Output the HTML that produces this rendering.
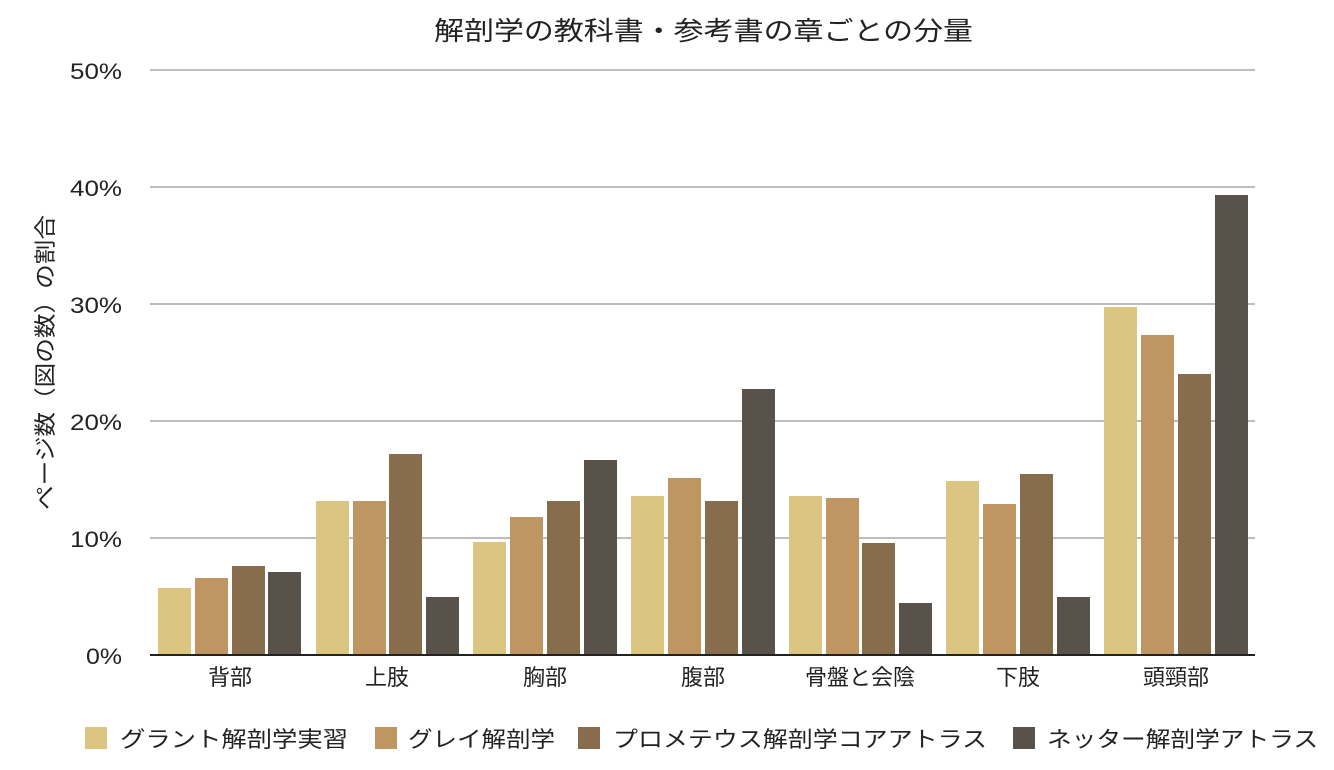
<!DOCTYPE html>
<html><head><meta charset="utf-8"><style>
html,body{margin:0;padding:0;background:#fff;}
svg{display:block;font-family:"Liberation Sans","Noto Sans CJK JP",sans-serif;}
</style></head><body>
<svg width="1334" height="770" viewBox="0 0 1334 770" xmlns="http://www.w3.org/2000/svg">
<text x="434" y="40" font-size="26" textLength="539" lengthAdjust="spacingAndGlyphs" fill="#222">解剖学の教科書・参考書の章ごとの分量</text>
<g stroke="#bdbdbd" stroke-width="2">
<line x1="150" y1="70" x2="1255" y2="70"/>
<line x1="150" y1="187" x2="1255" y2="187"/>
<line x1="150" y1="304" x2="1255" y2="304"/>
<line x1="150" y1="421" x2="1255" y2="421"/>
<line x1="150" y1="538" x2="1255" y2="538"/>
</g>
<g font-size="22" fill="#222">
<text x="70" y="79" textLength="52" lengthAdjust="spacingAndGlyphs">50%</text>
<text x="70" y="196" textLength="52" lengthAdjust="spacingAndGlyphs">40%</text>
<text x="70" y="313" textLength="52" lengthAdjust="spacingAndGlyphs">30%</text>
<text x="70" y="430" textLength="52" lengthAdjust="spacingAndGlyphs">20%</text>
<text x="70" y="547" textLength="52" lengthAdjust="spacingAndGlyphs">10%</text>
<text x="86" y="664" textLength="36" lengthAdjust="spacingAndGlyphs">0%</text>
</g>
<text transform="translate(53,510) rotate(-90)" font-size="22" textLength="295" lengthAdjust="spacingAndGlyphs" fill="#222">ページ数（図の数）の割合</text>
<g>
<rect x="158" y="588" width="33" height="67" fill="#dcc581"/>
<rect x="195" y="578" width="33" height="77" fill="#bf9662"/>
<rect x="232" y="566" width="33" height="89" fill="#876d4b"/>
<rect x="268" y="572" width="33" height="83" fill="#59524a"/>

<rect x="316" y="501" width="33" height="154" fill="#dcc581"/>
<rect x="353" y="501" width="33" height="154" fill="#bf9662"/>
<rect x="389" y="454" width="33" height="201" fill="#876d4b"/>
<rect x="426" y="597" width="33" height="58" fill="#59524a"/>

<rect x="473" y="542" width="33" height="113" fill="#dcc581"/>
<rect x="510" y="517" width="33" height="138" fill="#bf9662"/>
<rect x="547" y="501" width="33" height="154" fill="#876d4b"/>
<rect x="584" y="460" width="33" height="195" fill="#59524a"/>

<rect x="631" y="496" width="33" height="159" fill="#dcc581"/>
<rect x="668" y="478" width="33" height="177" fill="#bf9662"/>
<rect x="705" y="501" width="33" height="154" fill="#876d4b"/>
<rect x="742" y="389" width="33" height="266" fill="#59524a"/>

<rect x="789" y="496" width="33" height="159" fill="#dcc581"/>
<rect x="826" y="498" width="33" height="157" fill="#bf9662"/>
<rect x="862" y="543" width="33" height="112" fill="#876d4b"/>
<rect x="899" y="603" width="33" height="52" fill="#59524a"/>

<rect x="946" y="481" width="33" height="174" fill="#dcc581"/>
<rect x="983" y="504" width="33" height="151" fill="#bf9662"/>
<rect x="1020" y="474" width="33" height="181" fill="#876d4b"/>
<rect x="1057" y="597" width="33" height="58" fill="#59524a"/>

<rect x="1104" y="307" width="33" height="348" fill="#dcc581"/>
<rect x="1141" y="335" width="33" height="320" fill="#bf9662"/>
<rect x="1178" y="374" width="33" height="281" fill="#876d4b"/>
<rect x="1215" y="195" width="33" height="460" fill="#59524a"/>
</g>
<line x1="150" y1="655" x2="1255" y2="655" stroke="#222" stroke-width="2"/>
<g font-size="22" fill="#222" text-anchor="middle">
<text x="230" y="685">背部</text>
<text x="387" y="685">上肢</text>
<text x="545" y="685">胸部</text>
<text x="703" y="685">腹部</text>
<text x="860" y="685">骨盤と会陰</text>
<text x="1018" y="685">下肢</text>
<text x="1176" y="685">頭頸部</text>
</g>
<g font-size="22" fill="#222">
<rect x="85" y="727" width="22" height="22" fill="#dcc581"/>
<text x="120" y="747" textLength="228" lengthAdjust="spacingAndGlyphs">グラント解剖学実習</text>
<rect x="375" y="727" width="22" height="22" fill="#bf9662"/>
<text x="408" y="747" textLength="147" lengthAdjust="spacingAndGlyphs">グレイ解剖学</text>
<rect x="578" y="727" width="22" height="22" fill="#876d4b"/>
<text x="613" y="747" textLength="374" lengthAdjust="spacingAndGlyphs">プロメテウス解剖学コアアトラス</text>
<rect x="1013" y="727" width="22" height="22" fill="#59524a"/>
<text x="1047" y="747" textLength="271" lengthAdjust="spacingAndGlyphs">ネッター解剖学アトラス</text>
</g>
</svg>
</body></html>
